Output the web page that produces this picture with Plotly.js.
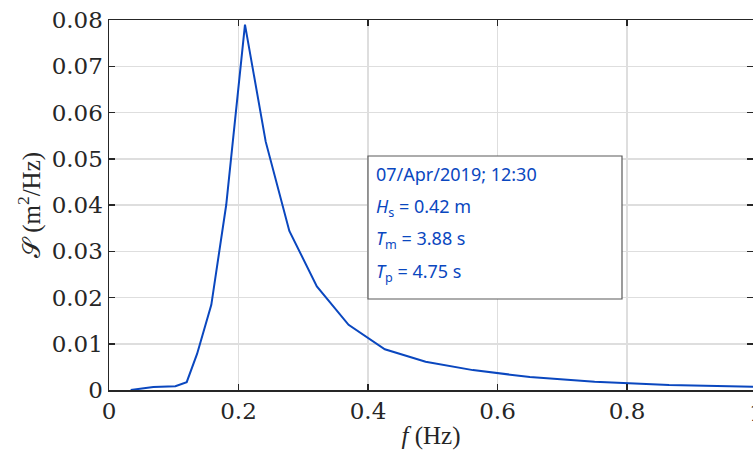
<!DOCTYPE html>
<html>
<head>
<meta charset="utf-8">
<script src="https://cdn.plot.ly/plotly-3.0.1.min.js"></script>
<style>html,body{margin:0;padding:0;background:#fff;}#chart{width:753px;height:456px;}</style>
</head>
<body>
<div id="chart"></div>
<script>
// Frequency (Hz) and spectral density S (m^2/Hz)
const freq = [0.0335, 0.0685, 0.1025, 0.120, 0.136, 0.158, 0.181, 0.210, 0.242, 0.2785, 0.321, 0.370, 0.426, 0.489, 0.562, 0.650, 0.750, 0.865, 1.000];
const spec = [0.0000, 0.00065, 0.0008, 0.0017, 0.0078, 0.0184, 0.0400, 0.0790, 0.0537, 0.0344, 0.0224, 0.0141, 0.0088, 0.0061, 0.0043, 0.0028, 0.0018, 0.0011, 0.0007];
const xTicks = [0, 0.2, 0.4, 0.6, 0.8, 1];
const yTicks = [0, 0.01, 0.02, 0.03, 0.04, 0.05, 0.06, 0.07, 0.08];
const boxLines = ["07/Apr/2019; 12:30", "<i>H</i><sub>s</sub> = 0.42 m", "<i>T</i><sub>m</sub> = 3.88 s", "<i>T</i><sub>p</sub> = 4.75 s"];

const blue = '#0a47bf';
const tickFont = {family: 'DejaVu Serif', size: 23, color: '#262626'};
const titleFont = {family: 'Liberation Serif', size: 25, color: '#262626'};
const W = 753, H = 456, L = 109, T = 20, B = 66;
const pw = W - L, ph = H - T - B;
const px2x = p => (p - L) / pw;
const py2y = p => (H - B - p) / ph;

const annotations = [];
const lineY = [174, 208, 240, 272];
boxLines.forEach((t, i) => {
  annotations.push({xref: 'paper', yref: 'paper', x: px2x(374), y: py2y(lineY[i]), xanchor: 'left', yanchor: 'middle',
    text: t, showarrow: false, align: 'left', font: {family: 'Noto Sans', size: 18, color: blue}});
});
// partially visible "1" tick label at the right edge
annotations.push({xref: 'paper', yref: 'paper', x: px2x(756.5), y: 0, yshift: -8, xanchor: 'center', yanchor: 'top',
  text: '1', showarrow: false, font: tickFont});

const layout = {
  width: W, height: H,
  margin: {l: L, r: 0, t: T, b: B, pad: 0},
  paper_bgcolor: '#fff', plot_bgcolor: '#fff',
  showlegend: false,
  xaxis: {
    range: [0, (753 - L) / (756.5 - L)], tickvals: xTicks, ticktext: xTicks.map(v => String(v)),
    showgrid: true, gridcolor: '#dedede', gridwidth: 1.5, zeroline: false,
    showline: true, linecolor: '#262626', linewidth: 1.5, mirror: 'ticks',
    ticks: 'inside', ticklen: 6, tickcolor: '#262626', tickwidth: 1.5,
    tickfont: tickFont,
    title: {text: '<i>f</i> (Hz)', font: titleFont, standoff: 3}
  },
  yaxis: {
    range: [0, 0.08], tickvals: yTicks, ticktext: yTicks.map(v => v === 0 ? '0' : v.toFixed(2)),
    showgrid: true, gridcolor: '#dedede', gridwidth: 1.5, zeroline: false,
    showline: true, linecolor: '#262626', linewidth: 1.5, mirror: 'ticks',
    ticks: 'inside', ticklen: 6, tickcolor: '#262626', tickwidth: 1.5,
    tickfont: tickFont,
    title: {text: '𝒮 (m<sup>2</sup>/Hz)', font: titleFont, standoff: 4}
  },
  shapes: [{type: 'rect', xref: 'paper', yref: 'paper', x0: px2x(368), x1: px2x(622), y0: py2y(299), y1: py2y(156),
    line: {color: '#5a5a5a', width: 1.2}, fillcolor: '#fff', layer: 'above'}],
  annotations: annotations
};

Plotly.newPlot('chart', [{
  x: freq, y: spec, type: 'scatter', mode: 'lines',
  line: {color: blue, width: 2}, cliponaxis: true
}], layout, {displayModeBar: false, staticPlot: true});
</script>
</body>
</html>
